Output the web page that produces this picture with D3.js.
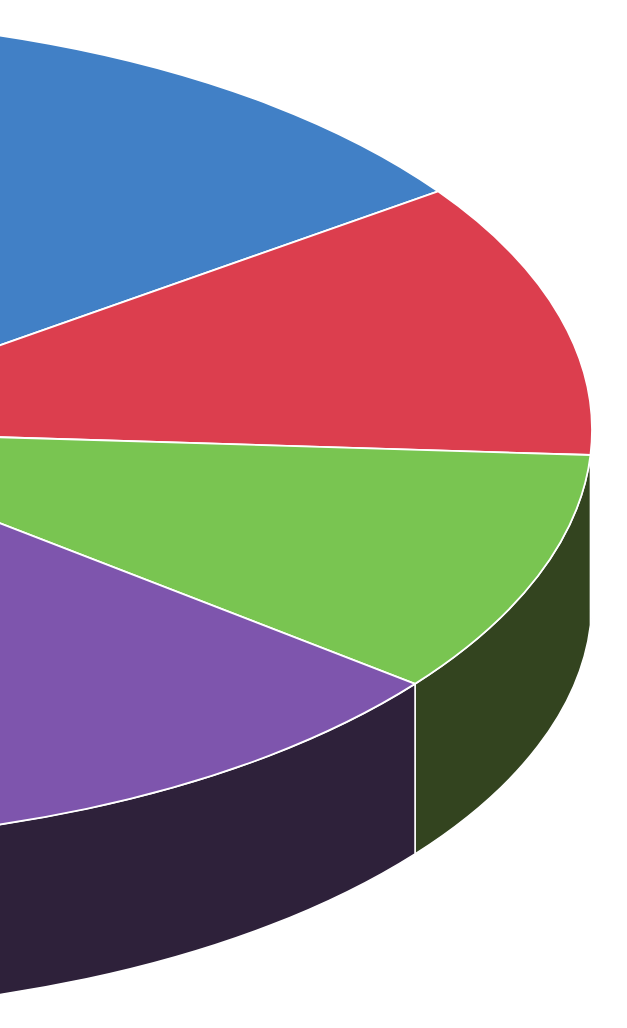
<!DOCTYPE html>
<html><head><meta charset="utf-8">
<script src="https://cdn.jsdelivr.net/npm/d3@7"></script>
<style>html,body{margin:0;padding:0;background:#fff;overflow:hidden}</style>
</head><body><svg id="chart" width="627" height="1028"></svg>
<script>
// Data (slices clockwise from the start angle)
const categories = ["Category A","Category B","Category C","Category D","Category E","Category F"];
const values = [19, 10.8, 9.6, 16, 24, 20.6];
const topColors = ["#4180c6","#dc3e4e","#79c551","#7e55ad","#f0a030","#9a9a9a"];
const sideColors = ["#233f5f","#5e1c22","#33441f","#2e213a","#6a4614","#444444"];
const startDeg = -13.8;

const W = 627, H = 1028;
const cx = -241, cy = 430, rx = 833, ry = 412, depth = 170;

const svg = d3.select("#chart");
svg.append("rect").attr("width", W).attr("height", H).attr("fill", "#fff");

const a0 = startDeg * Math.PI / 180;
const pie = d3.pie().sort(null).value(d => d.value).startAngle(a0).endAngle(a0 + 2 * Math.PI);
const data = categories.map((c, i) => ({name: c, value: values[i], i}));
const arcs = pie(data);

const px = a => cx + rx * Math.sin(a);
const py = (a, dz = 0) => cy - ry * Math.cos(a) + dz;

function wallPath(s, e) {
  const lo = Math.max(s, Math.PI / 2), hi = Math.min(e, 3 * Math.PI / 2);
  if (hi <= lo) return null;
  return `M${px(lo)},${py(lo)} A${rx},${ry} 0 0 1 ${px(hi)},${py(hi)} L${px(hi)},${py(hi, depth)} A${rx},${ry} 0 0 0 ${px(lo)},${py(lo, depth)} Z`;
}

// Walls
svg.append("g").selectAll("path")
  .data(arcs.filter(d => wallPath(d.startAngle, d.endAngle)))
  .join("path")
  .attr("d", d => wallPath(d.startAngle, d.endAngle))
  .attr("fill", d => sideColors[d.data.i])
  .attr("stroke", "#fff")
  .attr("stroke-width", 1.6)
  .attr("stroke-linejoin", "round");

// Top faces
const arcGen = d3.arc().innerRadius(0).outerRadius(rx);
svg.append("g")
  .attr("transform", `translate(${cx},${cy}) scale(1,${ry / rx})`)
  .selectAll("path")
  .data(arcs)
  .join("path")
  .attr("d", arcGen)
  .attr("fill", d => topColors[d.data.i])
  .attr("stroke", "#fff")
  .attr("stroke-width", 1.8)
  .attr("vector-effect", "non-scaling-stroke")
  .attr("stroke-linejoin", "round");
</script>
</body></html>
